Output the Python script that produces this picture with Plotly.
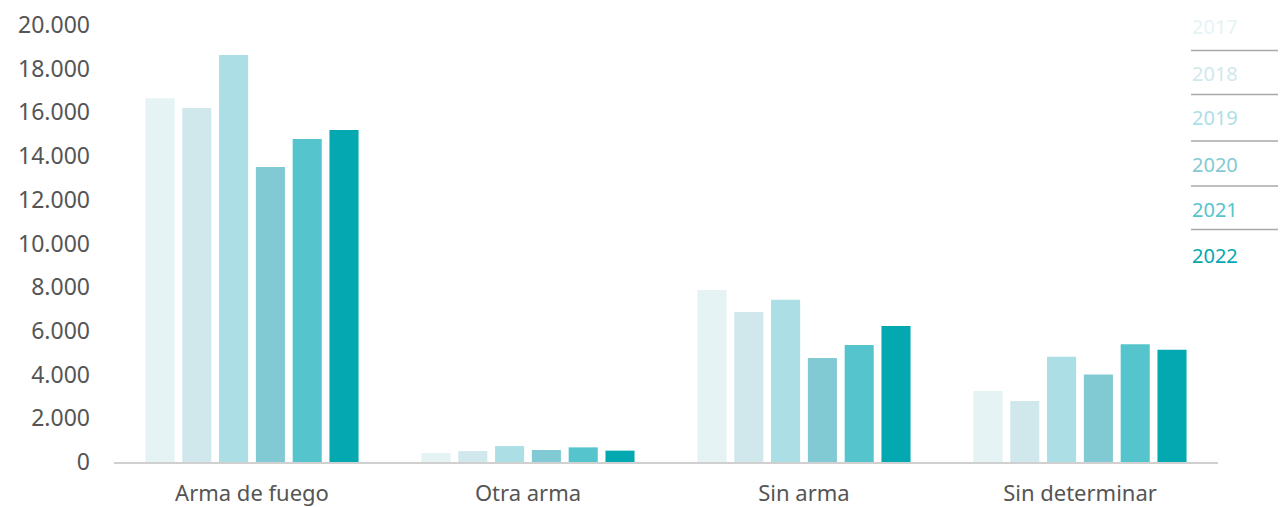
import plotly.graph_objects as go

categories = ["Arma de fuego", "Otra arma", "Sin arma", "Sin determinar"]
years = ["2017", "2018", "2019", "2020", "2021", "2022"]
v2017 = [16650, 410, 7870, 3250]
v2018 = [16200, 500, 6860, 2790]
v2019 = [18630, 730, 7430, 4820]
v2020 = [13500, 550, 4760, 4000]
v2021 = [14780, 670, 5350, 5390]
v2022 = [15200, 520, 6220, 5140]
series = [v2017, v2018, v2019, v2020, v2021, v2022]
colors = ["#e6f3f5", "#d0e8ec", "#acdfe5", "#82cad3", "#56c4cc", "#03a8b1"]
y_ticks = [0, 2000, 4000, 6000, 8000, 10000, 12000, 14000, 16000, 18000, 20000]

OFF = 8  # default page body margin
W, H = 1286 - OFF, 507 - OFF
L, R, T, B = 114 - OFF, 68, 25 - OFF, 45
pw, ph = W - L - R, H - T - B

def px(x):
    return (x - OFF - L) / pw

def py(y):
    return (H - B - (y - OFF)) / ph

fig = go.Figure()
for yr, vals, c in zip(years, series, colors):
    fig.add_trace(go.Bar(name=yr, x=categories, y=vals, marker=dict(color=c, line=dict(width=0))))

legend_y = [27, 73, 118, 164, 209, 255]
for yr, c, yy in zip(years, colors, legend_y):
    fig.add_annotation(xref="paper", yref="paper", x=px(1190), y=py(yy), text=yr,
                       showarrow=False, xanchor="left", yanchor="middle",
                       font=dict(family="Noto Sans", size=20, color=c))
for yy in [50.5, 94.5, 141, 186, 229.5]:
    fig.add_shape(type="line", xref="paper", yref="paper", x0=px(1191), x1=px(1286),
                  y0=py(yy), y1=py(yy), line=dict(color="#a9a9a9", width=1.5))

fig.update_layout(
    width=W, height=H,
    margin=dict(l=L, r=R, t=T, b=B),
    barmode="group", bargap=0.2, bargroupgap=0.21,
    plot_bgcolor="white", paper_bgcolor="white",
    showlegend=False,
    separators=",.",
    font=dict(family="Noto Sans", size=20, color="#555555"),
)
fig.update_yaxes(range=[0, 20000], tickvals=y_ticks, tickformat=",d", showgrid=False,
                 zeroline=False, showline=False, ticks="", ticklabelstandoff=23,
                 automargin=False, tickfont=dict(size=23, color="#555555"))
fig.update_xaxes(showline=True, linecolor="#d0d0d0", linewidth=2, ticks="",
                 ticklabelstandoff=11, automargin=False,
                 tickfont=dict(size=22, color="#555555"))

fig.write_html("out.html")
